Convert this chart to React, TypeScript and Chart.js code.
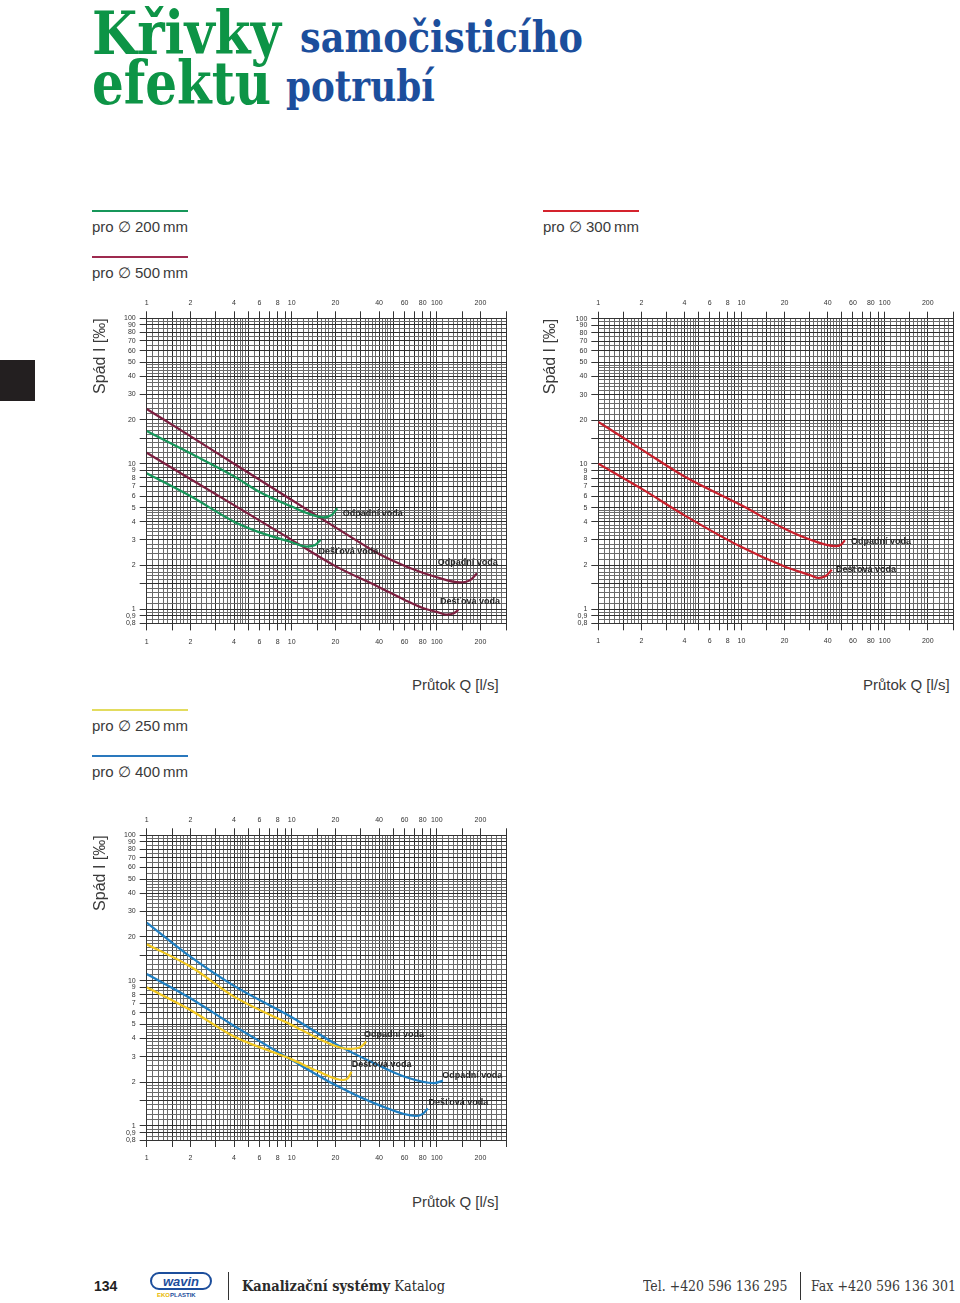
import React, { useEffect, useLayoutEffect, useRef } from "react";
import { Chart, registerables } from "chart.js";
Chart.register(...registerables);

// ---------- axes ----------
const X_MIN = 1;
const X_MAX = 300;
const Y_MIN = 0.8;
const Y_MAX = 100;
const X_TICKS = [1, 1.5, 2, 3, 4, 5, 6, 7, 8, 9, 10, 15, 20, 30, 40, 50, 60, 70, 80, 90, 100, 150, 200, 300];
const X_LABELS = [1, 2, 4, 6, 8, 10, 20, 40, 60, 80, 100, 200];
const Y_TICKS = [0.8, 0.9, 1, 1.5, 2, 3, 4, 5, 6, 7, 8, 9, 10, 15, 20, 30, 40, 50, 60, 70, 80, 90, 100];
const Y_LABELS = [0.8, 0.9, 1, 2, 3, 4, 5, 6, 7, 8, 9, 10, 20, 30, 40, 50, 60, 70, 80, 90, 100];
// grid subdivision inside one decade: [from, to, step]
const GRID_STEPS: [number, number, number][] = [
  [1, 2, 0.1],
  [2, 5, 0.2],
  [5, 10, 0.5],
];

// ---------- series (Q [l/s], I [‰]) ----------
type Pt = [number, number];
// Ø 200 mm (green)
const d200Waste: Pt[] = [[1, 16.8], [2, 11.8], [4, 8.2], [6, 6.4], [10, 5.08], [13, 4.55], [16.5, 4.29], [18.9, 4.45], [20.6, 4.95]];
const d200Rain: Pt[] = [[1, 8.6], [2, 6.0], [4, 4.0], [6, 3.38], [10, 2.89], [12.7, 2.7], [14.5, 2.77], [15.8, 3.0]];
// Ø 500 mm (purple)
const d500Waste: Pt[] = [[1, 23.8], [2, 15.5], [4, 10.0], [10, 5.64], [20, 3.66], [40, 2.4], [62, 1.96], [100, 1.66], [145, 1.53], [172, 1.6], [189, 1.77]];
const d500Rain: Pt[] = [[1, 11.9], [2, 7.87], [4, 5.2], [10, 3.0], [20, 1.98], [40, 1.42], [60, 1.16], [80, 1.02], [100, 0.96], [117, 0.92], [131, 0.94], [141, 0.99]];
// Ø 300 mm (red)
const d300Waste: Pt[] = [[1, 19.5], [2, 12.6], [4, 8.2], [10, 5.19], [20, 3.58], [30, 3.02], [45, 2.72], [49.5, 2.78], [52.8, 2.98]];
const d300Rain: Pt[] = [[1, 10.05], [2, 6.76], [4, 4.43], [10, 2.68], [20, 1.97], [30, 1.72], [34.5, 1.64], [39, 1.7], [42.7, 1.87]];
// Ø 250 mm (yellow)
const d250Waste: Pt[] = [[1, 17.8], [2, 12.5], [4, 7.76], [10, 4.95], [20, 3.55], [25, 3.39], [29.4, 3.46], [32.6, 3.8]];
const d250Rain: Pt[] = [[1, 9.0], [2, 6.28], [4, 4.12], [10, 2.87], [15, 2.39], [22.6, 2.07], [24.4, 2.13], [25.8, 2.36]];
// Ø 400 mm (blue)
const d400Waste: Pt[] = [[1, 25.1], [2, 14.6], [4, 9.2], [10, 5.6], [20, 3.67], [40, 2.6], [60, 2.18], [96, 1.97], [110, 2.05]];
const d400Rain: Pt[] = [[1, 11.1], [2, 7.56], [4, 4.88], [10, 2.84], [20, 1.91], [40, 1.39], [72, 1.17], [80, 1.21], [86.7, 1.32]];

const WASTE = "Odpadní voda";
const RAIN = "Dešťová voda";

const GREEN = "#17975a";
const PURPLE = "#7d1f40";
const RED = "#c9202c";
const YELLOW = "#f2c81e";
const BLUE = "#1f7fc2";

const SANS = '"Liberation Sans", Arial, Helvetica, sans-serif';
const SLAB = '"DejaVu Serif", serif';

function buildGrid(min: number, max: number): number[] {
  const out: number[] = [];
  for (let e = -1; e <= 2; e++) {
    const m = Math.pow(10, e);
    for (const [a, b, s] of GRID_STEPS) {
      for (let v = a; v < b - 1e-9; v += s) {
        const val = Number((v * m).toPrecision(6));
        if (val >= min - 1e-9 && val <= max + 1e-9) out.push(val);
      }
    }
  }
  if (!out.includes(max)) out.push(max);
  return out;
}
const X_GRID = buildGrid(X_MIN, X_MAX);
const Y_GRID = buildGrid(Y_MIN, Y_MAX);

const isMajor = (v: number, ticks: number[]) => ticks.some((t) => Math.abs(t - v) < 1e-6);
const fmt = (v: number) => String(v).replace(".", ",");

interface SeriesDef { data: Pt[]; color: string; }
interface LabelDef { x: number; y: number; text: string; }
interface PanelProps {
  left: number; top: number; width: number; height: number;
  plot: { l: number; r: number; t: number; b: number };
  series: SeriesDef[];
  labels: LabelDef[];
}

function LogPanel(p: PanelProps) {
  const ref = useRef<HTMLCanvasElement>(null);
  useEffect(() => {
    const canvas = ref.current!;
    const labelPlugin = {
      id: "curveLabels",
      afterDatasetsDraw(chart: any) {
        const ctx = chart.ctx;
        const xs = chart.scales.x;
        const ys = chart.scales.y;
        ctx.save();
        ctx.font = `bold 9px ${SANS}`;
        ctx.fillStyle = "#262626";
        ctx.textBaseline = "middle";
        ctx.textAlign = "left";
        for (const l of p.labels) {
          ctx.fillText(l.text, xs.getPixelForValue(l.x), ys.getPixelForValue(l.y));
        }
        ctx.restore();
      },
    };
    const tickFont = { family: SANS, size: 7 };
    const xAxis = (pos: "top" | "bottom", size: number) => ({
      type: "logarithmic",
      position: pos,
      min: X_MIN,
      max: X_MAX,
      bounds: "data",
      afterBuildTicks: (s: any) => { s.ticks = X_TICKS.map((v) => ({ value: v })); },
      afterFit: (s: any) => { s.height = size; },
      ticks: {
        autoSkip: false, maxRotation: 0, minRotation: 0,
        padding: pos === "top" ? 4 : 7,
        font: tickFont, color: "#333",
        callback: (v: any) => (X_LABELS.includes(Number(v)) ? fmt(Number(v)) : ""),
      },
      grid: { drawOnChartArea: false, drawTicks: true, tickLength: 7, color: "#333", lineWidth: 1 },
      border: { display: true, color: "#333", width: 1 },
    });
    const chart = new Chart(canvas, {
      type: "line",
      data: {
        datasets: p.series.map((s) => ({
          data: s.data.map(([x, y]) => ({ x, y })),
          borderColor: s.color,
          borderWidth: 2.2,
          pointRadius: 0,
          fill: false,
          cubicInterpolationMode: "monotone",
          xAxisID: "x",
          yAxisID: "y",
        })),
      },
      options: {
        responsive: false,
        animation: false,
        events: [],
        layout: { padding: { left: 0, top: 0, bottom: 0, right: p.width - p.plot.r } },
        plugins: { legend: { display: false }, tooltip: { enabled: false } },
        scales: {
          xg: {
            type: "logarithmic", position: "bottom", min: X_MIN, max: X_MAX, bounds: "data",
            afterBuildTicks: (s: any) => { s.ticks = X_GRID.map((v) => ({ value: v })); },
            afterFit: (s: any) => { s.height = 0; },
            ticks: { display: false },
            grid: {
              drawOnChartArea: true, drawTicks: false,
              color: (c: any) => (isMajor(c.tick?.value, X_TICKS) ? "#2e2e2e" : "#6a6a6a"),
              lineWidth: 1,
            },
            border: { display: false },
          },
          yg: {
            type: "logarithmic", position: "left", min: Y_MIN, max: Y_MAX, bounds: "data",
            afterBuildTicks: (s: any) => { s.ticks = Y_GRID.map((v) => ({ value: v })); },
            afterFit: (s: any) => { s.width = 0; },
            ticks: { display: false },
            grid: {
              drawOnChartArea: true, drawTicks: false,
              color: (c: any) => (isMajor(c.tick?.value, Y_TICKS) ? "#2e2e2e" : "#6a6a6a"),
              lineWidth: 1,
            },
            border: { display: false },
          },
          x: xAxis("bottom", p.height - p.plot.b),
          x2: xAxis("top", p.plot.t),
          y: {
            type: "logarithmic", position: "left", min: Y_MIN, max: Y_MAX, bounds: "data",
            afterBuildTicks: (s: any) => { s.ticks = Y_TICKS.map((v) => ({ value: v })); },
            afterFit: (s: any) => { s.width = p.plot.l; },
            ticks: {
              autoSkip: false, padding: 4, font: tickFont, color: "#333",
              callback: (v: any) => (Y_LABELS.includes(Number(v)) ? fmt(Number(v)) : ""),
            },
            grid: { drawOnChartArea: false, drawTicks: true, tickLength: 7, color: "#333", lineWidth: 1 },
            border: { display: true, color: "#333", width: 1 },
            title: {
              display: true, text: "Spád I [‰]", align: "end",
              font: { family: SANS, size: 16 }, color: "#3a3a3a",
              padding: { top: 1, bottom: 0 },
            },
          },
        },
      } as any,
      plugins: [labelPlugin],
    });
    return () => chart.destroy();
  }, []);
  return (
    <canvas
      ref={ref}
      width={p.width}
      height={p.height}
      style={{ position: "absolute", left: p.left, top: p.top, width: p.width, height: p.height }}
    />
  );
}

function FitText(props: { text: React.ReactNode; left: number; top: number; width: number; style: React.CSSProperties }) {
  const ref = useRef<HTMLDivElement>(null);
  useLayoutEffect(() => {
    const el = ref.current!;
    const w = el.offsetWidth;
    if (w > 0) el.style.transform = `scaleX(${props.width / w})`;
  });
  return (
    <div
      ref={ref}
      style={{
        position: "absolute", left: props.left, top: props.top, whiteSpace: "nowrap",
        transformOrigin: "0 0", display: "inline-block", ...props.style,
      }}
    >
      {props.text}
    </div>
  );
}

function LegendItem({ left, top, color, text }: { left: number; top: number; color: string; text: string }) {
  return (
    <>
      <div style={{ position: "absolute", left, top, width: 96, height: 2, background: color }} />
      <div
        style={{
          position: "absolute", left, top: top + 9, fontFamily: SANS, fontSize: 15,
          lineHeight: "15px", color: "#3a3a3a", whiteSpace: "nowrap",
        }}
      >
        {text}
      </div>
    </>
  );
}

function AxisCaption({ left, top }: { left: number; top: number }) {
  return (
    <div style={{ position: "absolute", left, top, fontFamily: SANS, fontSize: 15, lineHeight: "15px", color: "#3a3a3a", whiteSpace: "nowrap" }}>
      Průtok Q [l/s]
    </div>
  );
}

export default function App() {
  const titleGreen: React.CSSProperties = { fontFamily: SLAB, fontWeight: 700, fontSize: 60, lineHeight: "60px", color: "#0d9446" };
  const titleBlue: React.CSSProperties = { fontFamily: SLAB, fontWeight: 700, fontSize: 42, lineHeight: "42px", color: "#1c4e9c" };
  const footerSlab: React.CSSProperties = { fontFamily: SLAB, fontSize: 15, lineHeight: "15px", color: "#2a2a2a" };
  return (
    <div style={{ position: "absolute", left: 0, top: 0, width: 960, height: 1303, background: "#fff", overflow: "hidden" }}>
      <style>{`body{margin:0;background:#fff}`}</style>

      {/* Title */}
      <FitText text="Křivky" left={92} top={3} width={189} style={titleGreen} />
      <FitText text="samočisticího" left={300} top={17} width={283} style={titleBlue} />
      <FitText text="efektu" left={92} top={53} width={179} style={titleGreen} />
      <FitText text="potrubí" left={286} top={66} width={149} style={titleBlue} />

      {/* side marker */}
      <div style={{ position: "absolute", left: 0, top: 360, width: 35, height: 41, background: "#231f20" }} />

      {/* Legends */}
      <LegendItem left={92} top={210} color={GREEN} text={"pro ∅ 200\u202Fmm"} />
      <LegendItem left={543} top={210} color="#d4232d" text={"pro ∅ 300\u202Fmm"} />
      <LegendItem left={92} top={256} color="#9e2a4f" text={"pro ∅ 500\u202Fmm"} />
      <LegendItem left={92} top={709} color="#e3dc5e" text={"pro ∅ 250\u202Fmm"} />
      <LegendItem left={92} top={755} color="#2a78bd" text={"pro ∅ 400\u202Fmm"} />

      {/* Charts */}
      <LogPanel
        left={90} top={290} width={430} height={365}
        plot={{ l: 56.7, r: 416, t: 28.3, b: 333.4 }}
        series={[
          { data: d200Waste, color: GREEN },
          { data: d200Rain, color: GREEN },
          { data: d500Waste, color: PURPLE },
          { data: d500Rain, color: PURPLE },
        ]}
        labels={[
          { x: 22.5, y: 4.57, text: WASTE },
          { x: 15.3, y: 2.49, text: RAIN },
          { x: 101.6, y: 2.09, text: WASTE },
          { x: 105.4, y: 1.14, text: RAIN },
        ]}
      />
      <LogPanel
        left={540} top={290} width={420} height={365}
        plot={{ l: 58.3, r: 416.5, t: 28.7, b: 333.3 }}
        series={[
          { data: d300Waste, color: RED },
          { data: d300Rain, color: RED },
        ]}
        labels={[
          { x: 58.1, y: 2.92, text: WASTE },
          { x: 45.8, y: 1.88, text: RAIN },
        ]}
      />
      <LogPanel
        left={90} top={807} width={430} height={365}
        plot={{ l: 56.7, r: 416, t: 28.3, b: 333 }}
        series={[
          { data: d250Waste, color: YELLOW },
          { data: d250Rain, color: YELLOW },
          { data: d400Waste, color: BLUE },
          { data: d400Rain, color: BLUE },
        ]}
        labels={[
          { x: 31.5, y: 4.23, text: WASTE },
          { x: 25.9, y: 2.63, text: RAIN },
          { x: 109, y: 2.24, text: WASTE },
          { x: 87.5, y: 1.45, text: RAIN },
        ]}
      />

      <AxisCaption left={412} top={677} />
      <AxisCaption left={863} top={677} />
      <AxisCaption left={412} top={1194} />

      {/* Footer */}
      <div style={{ position: "absolute", left: 94, top: 1279, fontFamily: SANS, fontWeight: 700, fontSize: 14, lineHeight: "14px", color: "#222" }}>134</div>
      <div
        style={{
          position: "absolute", left: 150, top: 1272, width: 58, height: 14, border: "2px solid #1c4e9c",
          borderRadius: 10, display: "flex", alignItems: "center", justifyContent: "center",
          fontFamily: SANS, fontWeight: 700, fontStyle: "italic", fontSize: 13, color: "#1c4e9c", lineHeight: "13px",
        }}
      >
        wavin
      </div>
      <div style={{ position: "absolute", left: 157, top: 1292, fontFamily: SANS, fontWeight: 700, fontSize: 6, lineHeight: "6px", whiteSpace: "nowrap" }}>
        <span style={{ color: "#e8b800" }}>EKO</span>
        <span style={{ color: "#1c4e9c" }}>PLASTIK</span>
      </div>
      <div style={{ position: "absolute", left: 228, top: 1272, width: 1, height: 28, background: "#333" }} />
      <FitText
        text={<><span style={{ fontWeight: 700 }}>Kanalizační systémy</span> <span style={{ fontWeight: 400 }}>Katalog</span></>}
        left={242} top={1279} width={203} style={footerSlab}
      />
      <FitText text="Tel. +420 596 136 295" left={643} top={1279} width={144} style={{ ...footerSlab, fontWeight: 400, color: "#3a3a3a" }} />
      <div style={{ position: "absolute", left: 800, top: 1272, width: 1, height: 28, background: "#333" }} />
      <FitText text="Fax +420 596 136 301" left={811} top={1279} width={145} style={{ ...footerSlab, fontWeight: 400, color: "#3a3a3a" }} />
    </div>
  );
}
